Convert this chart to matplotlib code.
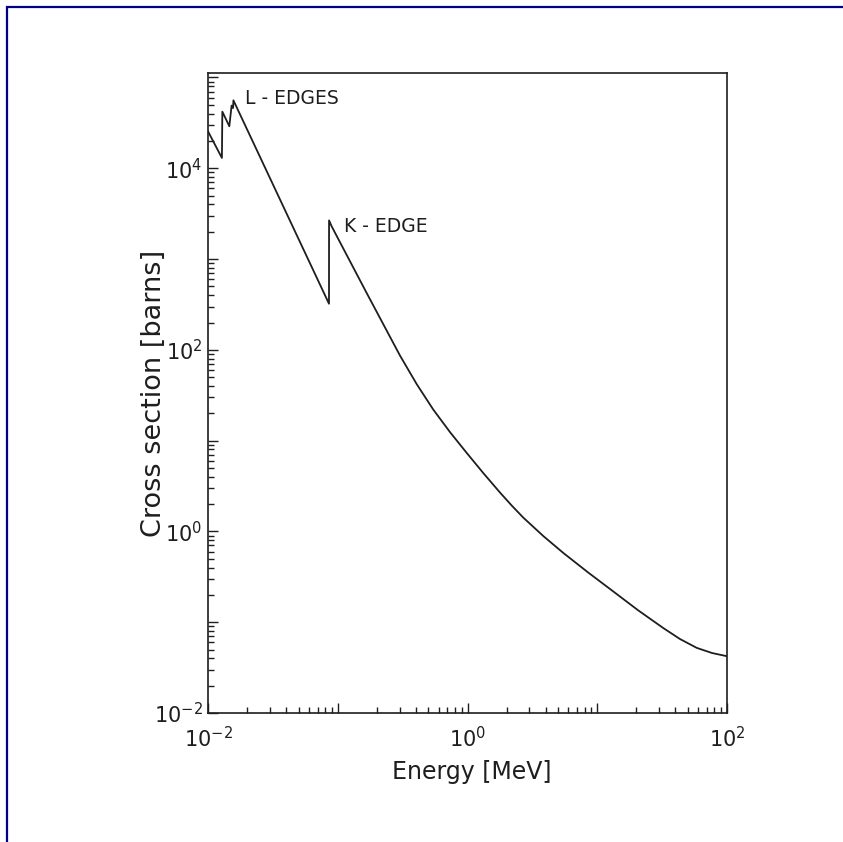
import matplotlib
matplotlib.use('Agg')
import matplotlib.pyplot as plt
import matplotlib.patches as patches
from matplotlib.ticker import FixedLocator, LogLocator, NullFormatter, FixedFormatter

# photon cross section (Energy in MeV, cross section in barns)
energy = [0.0100, 0.0128, 0.0129, 0.0146, 0.0152, 0.0156, 0.0157,
          0.0856, 0.0857, 0.0898, 0.167, 0.302, 0.406, 0.545,
          0.733, 0.986, 1.324, 1.78, 2.19, 2.69, 3.84, 5.47, 8.53, 13.3,
          20.7, 32.3, 43.4, 58.4, 76.6, 100.0]
cross_section = [2.55e4, 1.30e4, 4.20e4, 2.90e4, 4.90e4, 4.60e4, 5.60e4,
                 322, 2667, 2288, 423, 86.3, 41.9, 21.95,
                 12.41, 7.32, 4.39, 2.68, 1.93, 1.42, 0.889, 0.580, 0.352, 0.218,
                 0.135, 0.0862, 0.0653, 0.0522, 0.0458, 0.0422]

x_major = [1e-2, 1e-1, 1e0, 1e1, 1e2]
x_tick_labels = ['$10^{-2}$', '', '$10^{0}$', '', '$10^{2}$']
y_major = [1e-2, 1e-1, 1e0, 1e1, 1e2, 1e3, 1e4, 1e5]
y_tick_labels = ['$10^{-2}$', '', '$10^{0}$', '', '$10^{2}$', '', '$10^{4}$', '']

# annotations: text, x, y
notes = [('L - EDGES', 0.0193, 5.9e4), ('K - EDGE', 0.1117, 2270)]

ink = '#1e1e1e'
plt.rcParams['font.family'] = 'DejaVu Sans'
plt.rcParams['mathtext.fontset'] = 'dejavusans'

fig = plt.figure(figsize=(8.43, 8.42), dpi=100)
ax = fig.add_axes([208/843, 1 - 713/842, 519/843, 640/842])

ax.plot(energy, cross_section, color=ink, lw=1.3)
ax.set_xscale('log')
ax.set_yscale('log')
ax.set_xlim(1e-2, 1e2)
ax.set_ylim(1e-2, 1.12e5)

ax.xaxis.set_major_locator(FixedLocator(x_major))
ax.xaxis.set_major_formatter(FixedFormatter(x_tick_labels))
ax.yaxis.set_major_locator(FixedLocator(y_major))
ax.yaxis.set_major_formatter(FixedFormatter(y_tick_labels))
ax.xaxis.set_minor_locator(LogLocator(base=10, subs=range(2, 10), numticks=50))
ax.yaxis.set_minor_locator(LogLocator(base=10, subs=range(2, 10), numticks=50))
ax.xaxis.set_minor_formatter(NullFormatter())
ax.yaxis.set_minor_formatter(NullFormatter())

ax.tick_params(which='both', direction='in', color=ink, width=1.0)
ax.tick_params(which='major', length=7, labelsize=15, labelcolor=ink)
ax.tick_params(which='minor', length=4)
ax.tick_params(axis='x', which='major', pad=9)
ax.tick_params(axis='y', which='major', pad=4)
for s in ax.spines.values():
    s.set_color(ink)
    s.set_linewidth(1.2)

ax.set_xlabel('Energy [MeV]', fontsize=17, color=ink)
ax.set_ylabel('Cross section [barns]', fontsize=19.5, color=ink)
ax.xaxis.set_label_coords(0.508, -0.073)
ax.yaxis.set_label_coords(-0.08, 0.5)

for txt, xx, yy in notes:
    ax.text(xx, yy, txt, fontsize=13.5, color=ink, va='center', ha='left')

# navy frame round the page
frame = patches.Rectangle((7/843, -0.1), 1.2, 1 - 7/842 + 0.1, transform=fig.transFigure,
                          fill=False, edgecolor='#00008B', linewidth=1.6, clip_on=False)
fig.patches.append(frame)

fig.savefig('out.png', dpi=100)
